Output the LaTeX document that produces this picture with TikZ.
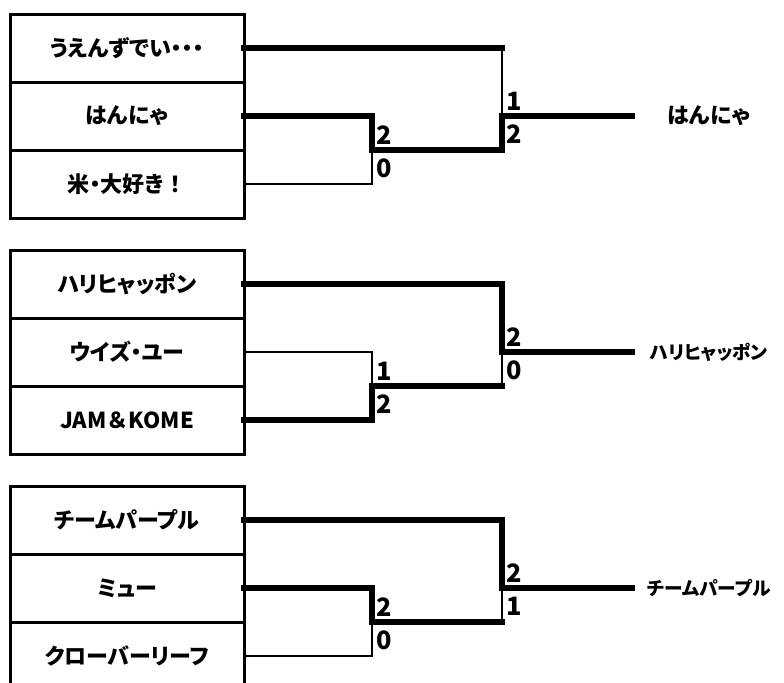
\documentclass[tikz,border=0pt]{standalone}
\usepackage{fontspec}
\newfontfamily\jp{Noto Sans CJK JP}[RawFeature=+palt]
\newfontfamily\jpfull{Noto Sans CJK JP}
\begin{document}
\begin{tikzpicture}[x=0.75pt,y=-0.75pt,
  cell/.style={draw,line width=2.25pt,minimum width=175.5pt,minimum height=51pt,inner sep=0pt,outer sep=0pt,font=\jp\bfseries\fontsize{16.5pt}{18pt}\selectfont},
  win/.style={line width=4.5pt,line cap=rect,line join=miter},
  lose/.style={line width=1.5pt,line cap=rect,line join=miter},
  score/.style={inner sep=0pt,anchor=base west,font=\jp\bfseries\fontsize{19pt}{20pt}\selectfont},
  champ/.style={inner sep=0pt,font=\jp\bfseries\fontsize{16.5pt}{18pt}\selectfont},
  champs/.style={inner sep=0pt,font=\jp\bfseries\fontsize{14pt}{16pt}\selectfont}]
\useasboundingbox (0,0) rectangle (784,682);
\clip (0,0) rectangle (784,682);
% group 1
\node[cell] (a1) at (127,48) {うえんずでい・・・};
\node[cell] (a2) at (127,116) {はんにゃ};
\node[cell] (a3) at (127,184) {米・大好き{\jpfull\bfseries ！}};
\coordinate (s1) at (372,150);
\coordinate (f1) at (502,116);
\coordinate (e1) at (632,116);
\node[champ] (w1) at (709,116) {はんにゃ};
\draw[win] (a1.east) -- (a1.east -| f1);
\draw[lose] (a1.east -| f1) -- (f1);
\draw[lose] (a3.east) -| (s1);
\draw[win] (a2.east) -| (s1);
\draw[win] (s1) -| (f1);
\draw[win] (f1) -- (e1);
\node[score] (p11) at ([shift={(4,-6)}]s1) {2};
\node[score] (p12) at ([shift={(4,27)}]s1) {0};
\node[score] (p13) at ([shift={(4,-6)}]f1) {1};
\node[score] (p14) at ([shift={(4,27)}]f1) {2};
% group 2
\node[cell] (b1) at (127,284) {ハリヒャッポン};
\node[cell] (b2) at (127,352) {ウイズ・ユー};
\node[cell] (b3) at (127,420) {JAM{\jpfull\bfseries ＆}KOME};
\coordinate (s2) at (372,386);
\coordinate (f2) at (502,352);
\coordinate (e2) at (632,352);
\node[champs] (w2) at (709,352) {ハリヒャッポン};
\draw[lose] (b2.east) -| (s2);
\draw[lose] (s2 -| f2) -- (f2);
\draw[win] (b1.east) -| (f2);
\draw[win] (b3.east) -| (s2);
\draw[win] (s2) -- (s2 -| f2);
\draw[win] (f2) -- (e2);
\node[score] (p21) at ([shift={(4,-6)}]s2) {1};
\node[score] (p22) at ([shift={(4,27)}]s2) {2};
\node[score] (p23) at ([shift={(4,-6)}]f2) {2};
\node[score] (p24) at ([shift={(4,27)}]f2) {0};
% group 3
\node[cell] (c1) at (127,520) {チームパープル};
\node[cell] (c2) at (127,588) {ミュー};
\node[cell] (c3) at (127,656) {クローバーリーフ};
\coordinate (s3) at (372,622);
\coordinate (f3) at (502,588);
\coordinate (e3) at (632,588);
\node[champs] (w3) at (709,588) {チームパープル};
\draw[lose] (c3.east) -| (s3);
\draw[lose] (s3 -| f3) -- (f3);
\draw[win] (c1.east) -| (f3);
\draw[win] (c2.east) -| (s3);
\draw[win] (s3) -- (s3 -| f3);
\draw[win] (f3) -- (e3);
\node[score] (p31) at ([shift={(4,-6)}]s3) {2};
\node[score] (p32) at ([shift={(4,27)}]s3) {0};
\node[score] (p33) at ([shift={(4,-6)}]f3) {2};
\node[score] (p34) at ([shift={(4,27)}]f3) {1};
\end{tikzpicture}
\end{document}
